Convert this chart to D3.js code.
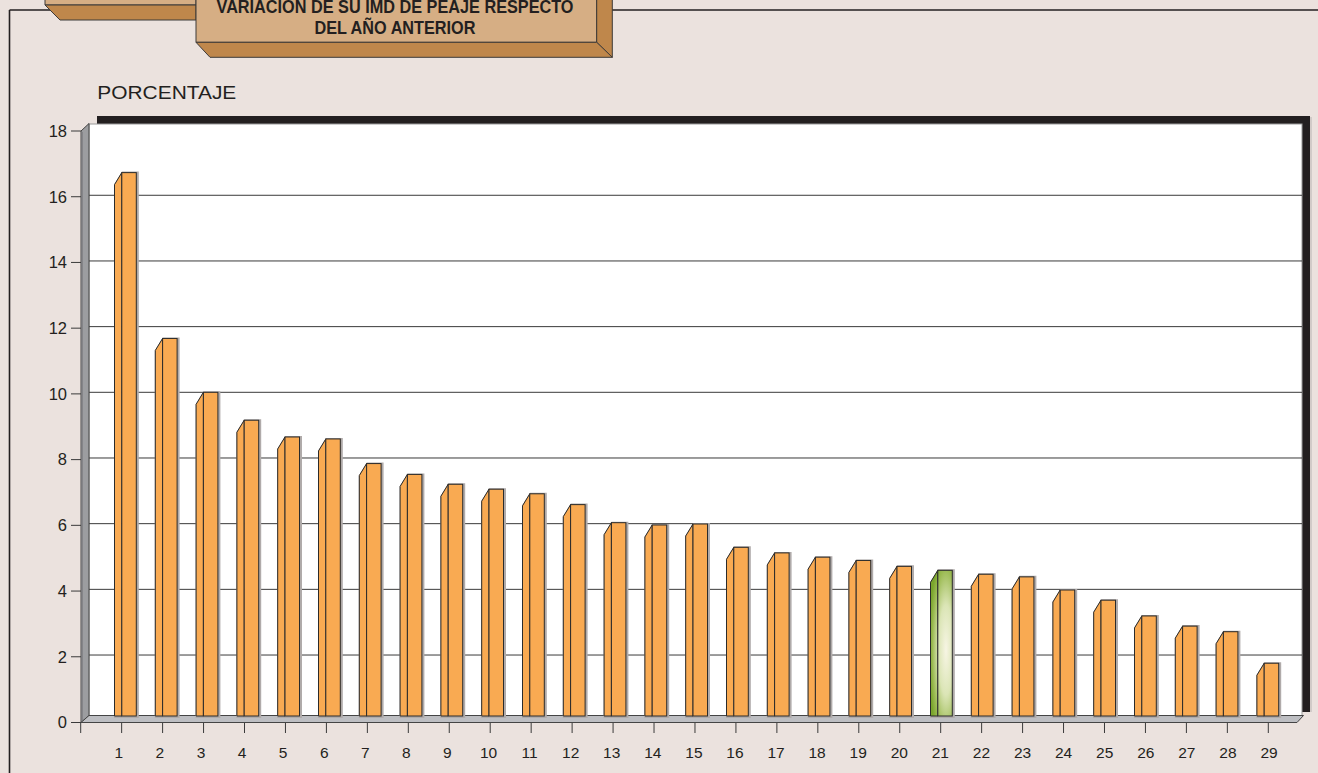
<!DOCTYPE html>
<html><head><meta charset="utf-8">
<script src="https://cdn.jsdelivr.net/npm/d3@7"></script>
<style>html,body{margin:0;padding:0;background:#ebe2de;overflow:hidden}</style>
</head><body>
<svg id="c" width="1318" height="773"></svg>
<script>
const categories = ["1","2","3","4","5","6","7","8","9","10","11","12","13","14","15","16","17","18","19","20","21","22","23","24","25","26","27","28","29"];
const values = [16.69, 11.64, 10.0, 9.15, 8.64, 8.58, 7.83, 7.50, 7.20, 7.05, 6.91, 6.58, 6.03, 5.96, 5.99, 5.28, 5.11, 4.98, 4.88, 4.70, 4.58, 4.46, 4.38, 3.98, 3.67, 3.19, 2.88, 2.71, 1.75];
const highlighted = ["21"];
const yTickValues = [0, 2, 4, 6, 8, 10, 12, 14, 16, 18];
const gridValues = [2, 4, 6, 8, 10, 12, 14, 16];
const titleLines = ["VARIACIÓN DE SU IMD DE PEAJE RESPECTO", "DEL AÑO ANTERIOR"];
const yAxisTitle = "PORCENTAJE";

const svg = d3.select("#c");
const FONT = "'Liberation Sans', Arial, Helvetica, sans-serif";
const ORANGE = "#f9aa52", STROKE = "#2b2b2b";
const TAN = "#d6ae84", BROWN = "#bf874b", BOX_STROKE = "#3d3a38";

// scales
const y = d3.scaleLinear().domain([0, 18]).range([720.7, 129.6]);     // back wall / bars
const yFront = d3.scaleLinear().domain([0, 18]).range([722.5, 131]);  // front axis ticks
const idx = categories.map((c, i) => i + 1);
const xTick = d3.scaleLinear().domain([0, 29]).range([80.7, 1268.3]);
const xBar = d3.scaleLinear().domain([1, 29]).range([121.8, 1264.2]);
const xLab = d3.scaleLinear().domain([1, 29]).range([118.8, 1269]);

const defs = svg.append("defs");
const rg = defs.append("radialGradient").attr("id", "greenGrad")
  .attr("gradientUnits", "userSpaceOnUse")
  .attr("cx", 0).attr("cy", 0).attr("r", 1)
  .attr("gradientTransform", "translate(946,650) scale(17,100)");
rg.append("stop").attr("offset", 0).attr("stop-color", "#f7f5e4");
rg.append("stop").attr("offset", 0.45).attr("stop-color", "#dbe5b6");
rg.append("stop").attr("offset", 0.8).attr("stop-color", "#9cbb54");
rg.append("stop").attr("offset", 1).attr("stop-color", "#7aa52c");

// outer frame lines
svg.append("line").attr("x1", 9.5).attr("y1", 10).attr("x2", 9.5).attr("y2", 773)
  .attr("stroke", "#231f20").attr("stroke-width", 1.6);
svg.append("line").attr("x1", 9.5).attr("y1", 10).attr("x2", 1318).attr("y2", 10)
  .attr("stroke", "#231f20").attr("stroke-width", 1.6);

// title boxes
const tb = svg.append("g").attr("stroke", BOX_STROKE).attr("stroke-width", 1).attr("stroke-linejoin", "round");
tb.append("rect").attr("x", 45).attr("y", -5).attr("width", 151).attr("height", 10).attr("fill", TAN);
tb.append("polygon").attr("points", "45,5 196,5 196,20 60,20").attr("fill", BROWN);
tb.append("rect").attr("x", 196).attr("y", -5).attr("width", 400.7).attr("height", 47.3).attr("fill", TAN);
tb.append("polygon").attr("points", "596.7,-5 612.3,-5 612.3,57.3 596.7,42.3").attr("fill", BROWN);
tb.append("polygon").attr("points", "196,42.3 596.7,42.3 612.3,57.3 210,57.3").attr("fill", BROWN);

const tt = svg.append("g").attr("font-family", "'Liberation Sans Narrow', 'Liberation Sans', Arial, sans-serif")
  .attr("font-weight", "bold").attr("font-size", 17.5).attr("fill", "#231f20").attr("text-anchor", "middle");
tt.append("text").attr("x", 395).attr("y", 13.3).attr("textLength", 357).attr("lengthAdjust", "spacingAndGlyphs").text(titleLines[0]);
tt.append("text").attr("x", 395).attr("y", 34.3).attr("textLength", 161).attr("lengthAdjust", "spacingAndGlyphs").text(titleLines[1]);

// y axis title
svg.append("text").attr("x", 97.3).attr("y", 98.5).attr("font-family", FONT).attr("font-size", 17.5)
  .attr("fill", "#231f20").attr("textLength", 139).attr("lengthAdjust", "spacingAndGlyphs").text(yAxisTitle);

// black shadow frame + white back wall
svg.append("rect").attr("x", 97).attr("y", 116).attr("width", 1213).attr("height", 596).attr("fill", "#231f20");
svg.append("line").attr("x1", 1311).attr("y1", 117).attr("x2", 1311).attr("y2", 712).attr("stroke", "#b8b3b1").attr("stroke-width", 1);
svg.append("rect").attr("x", 89).attr("y", 124).attr("width", 1213).attr("height", 591.5)
  .attr("fill", "#ffffff").attr("stroke", "#9a9a9a").attr("stroke-width", 1);

// gridlines
svg.append("g").selectAll("line").data(gridValues).join("line")
  .attr("x1", 89).attr("x2", 1302)
  .attr("y1", d => y(d)).attr("y2", d => y(d))
  .attr("stroke", "#3a3a3a").attr("stroke-width", 1);

// left wall
svg.append("polygon")
  .attr("points", [[81, yFront(18)], [89, 123.5], [89, 715.5], [81, yFront(0)]].map(p => p.join(",")).join(" "))
  .attr("fill", "#9c9da0").attr("stroke", "#444").attr("stroke-width", 1);
svg.append("line").attr("x1", 82).attr("y1", yFront(18) + 1).attr("x2", 82).attr("y2", yFront(0) - 1)
  .attr("stroke", "#7c7d80").attr("stroke-width", 1.5);

// floor
svg.append("polygon")
  .attr("points", [[81, yFront(0)], [89, 715.5], [1303.5, 715.5], [1297, yFront(0)]].map(p => p.join(",")).join(" "))
  .attr("fill", "#bdbec2").attr("stroke", "#444").attr("stroke-width", 1);

// bars
const FW = 14.5, SW = 7.3, SLANT = 12, BASE = 716;
const bars = svg.append("g").selectAll("g").data(idx).join("g");
const isHi = i => highlighted.includes(categories[i - 1]);
bars.append("path")
  .attr("d", i => {
    const fx = xBar(i), top = y(values[i - 1]);
    return `M${fx - SW},${BASE} L${fx - SW},${top + SLANT} L${fx},${top} L${fx + FW},${top} L${fx + FW},${BASE} Z`;
  })
  .attr("fill", "none").attr("stroke", "#b0abaa").attr("stroke-width", 3).attr("transform", "translate(1,0.5)");
bars.append("path")
  .attr("d", i => {
    const fx = xBar(i), top = y(values[i - 1]);
    return `M${fx - SW},${BASE} L${fx - SW},${top + SLANT} L${fx},${top} L${fx},${BASE} Z`;
  })
  .attr("fill", i => isHi(i) ? "url(#greenGrad)" : ORANGE)
  .attr("stroke", STROKE).attr("stroke-width", 1).attr("stroke-linejoin", "round");
bars.append("rect")
  .attr("x", i => xBar(i)).attr("y", i => y(values[i - 1]))
  .attr("width", FW).attr("height", i => BASE - y(values[i - 1]))
  .attr("fill", i => isHi(i) ? "url(#greenGrad)" : ORANGE)
  .attr("stroke", STROKE).attr("stroke-width", 1);

// y axis ticks & labels
const ya = svg.append("g");
ya.selectAll("line").data(yTickValues).join("line")
  .attr("x1", 71).attr("x2", 81).attr("y1", d => yFront(d)).attr("y2", d => yFront(d))
  .attr("stroke", "#3a3a3a").attr("stroke-width", 1);
ya.selectAll("text").data(yTickValues).join("text")
  .attr("x", 67).attr("y", d => yFront(d) + 5.8).attr("text-anchor", "end")
  .attr("font-family", FONT).attr("font-size", 16.5).attr("fill", "#231f20")
  .text(d => d);

// x axis ticks & labels
const xa = svg.append("g");
xa.selectAll("line").data(d3.range(0, 30)).join("line")
  .attr("x1", d => xTick(d)).attr("x2", d => xTick(d)).attr("y1", 723).attr("y2", 733)
  .attr("stroke", "#3a3a3a").attr("stroke-width", 1);
xa.selectAll("text").data(idx).join("text")
  .attr("x", i => xLab(i)).attr("y", 758).attr("text-anchor", "middle")
  .attr("font-family", FONT).attr("font-size", 15.5).attr("fill", "#231f20")
  .text(i => categories[i - 1]);
</script>
</body></html>
